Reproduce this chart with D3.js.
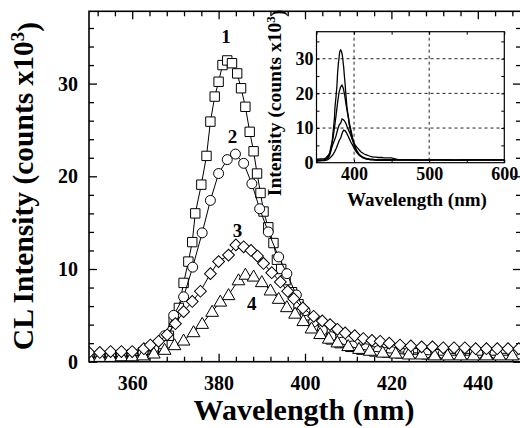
<!DOCTYPE html>
<html><head><meta charset="utf-8">
<script src="https://cdn.jsdelivr.net/npm/d3@7"></script>
<style>body{margin:0;background:#fff}svg{display:block}</style>
</head><body>
<svg id="c" width="520" height="428"></svg>
<script>
// ---- data ----
const s1x = [350,352.5,355,357.5,360,362.5,365,367,368.5,369.6,370.8,371.9,373,373.9,374.6,376,377.2,378.1,379.1,380,380.9,382,383.1,384.3,385.2,386.2,387.2,388.1,388.9,389.7,390.4,391.5,392.7,393.5,394.5,395.5,397,398.5,400,402,404,406,408,410.5,413,416,419,422,425,428,431,434,437,440,443,446,449];
const s1y = [0.6,0.6,0.7,0.7,0.8,1.0,1.3,1.9,2.8,4.3,5.8,8.5,10.8,12.9,16.0,19.1,22.2,25.9,28.6,30.2,32.0,32.5,32.2,31.1,29.5,27.5,24.8,22.7,20.3,18.2,16.2,14.5,12.8,11.0,10.0,8.8,7.5,6.2,5.0,3.8,3.0,2.4,2.0,1.6,1.3,1.1,1.0,0.9,0.9,0.8,0.8,0.8,0.8,0.8,0.8,0.8,0.8];
const s2x = [350,352.5,355,357.5,360,362.5,365,367.5,369.6,371.9,374,376.2,378.1,380,382,383.9,385.8,387.7,389.5,391.5,393.9,395.8,398,400,402,404,406,408.5,411,414,417,420,424,428,432,436,440,444,448];
const s2y = [0.6,0.6,0.7,0.7,0.8,1.0,1.5,2.8,5.0,7.0,10.2,13.9,17.4,20.3,21.8,22.4,21.4,19.2,16.5,14.0,11.3,9.5,7.2,5.5,4.3,3.4,2.7,2.1,1.7,1.4,1.2,1.1,1.0,0.9,0.9,0.9,0.9,0.9,0.9];
const s3x = [350,352.5,355,357.5,360,362.7,364.2,366.1,368.1,370,371.9,373.9,375.8,378.1,380,382.3,384,385.8,387.5,389,390.4,392.3,394.3,396,397.4,399.5,402,404,405.8,407.5,409.3,411.5,413.5,415.5,417.4,419.5,422,424.5,427,429.5,432,434.5,437,439.5,442,444.5,447,449.5];
const s3y = [1.0,1.0,1.1,1.1,1.1,1.4,1.8,2.2,2.9,4.1,5.4,6.5,7.6,9.5,10.8,11.5,12.6,12.4,12.0,11.4,10.6,9.6,8.6,7.6,6.8,5.8,4.9,4.4,4.0,3.5,3.1,2.8,2.5,2.3,2.2,2.0,1.8,1.7,1.6,1.6,1.5,1.5,1.5,1.4,1.4,1.4,1.4,1.4];
const s4x = [350,352.5,355,357.5,360,362.5,365,367.5,369.8,371.9,374.2,376.2,378.5,380.4,382.3,384.6,386.2,388.1,390,392,393.9,395.8,397.7,399.6,401.5,403.5,405.5,407.5,410,412.5,415,418,421,424,427,430,433,436,439,442,445,448];
const s4y = [0.5,0.5,0.5,0.6,0.6,0.7,0.9,1.3,1.8,2.3,3.2,4.1,5.4,6.5,7.2,8.8,9.4,9.2,8.6,7.7,6.8,5.9,5.2,4.4,3.6,3.0,2.5,2.1,1.7,1.4,1.2,1.0,0.9,0.8,0.8,0.7,0.7,0.7,0.7,0.7,0.7,0.7];
// inset tail beyond 450 nm (shared)
const tailX = [460,475,490,505,520,535,550,565,580,590,600];
const tailY = [0.8,0.8,0.7,0.8,0.8,0.7,0.8,0.9,0.8,0.9,0.8];
const seriesLabels = ["1","2","3","4"];
const labelX = [381.7,383.2,384.4,387.7];
const labelY = [35.1,24.3,14.2,6.3];
const xMajor = [360,380,400,420,440];
const yMajor = [0,10,20,30];
const insetXMajor = [400,500,600];
const insetYMajor = [0,10,20,30];

// ---- layout ----
const svg = d3.select("#c");
const L = 89, R = 521, T = 11.3, B = 361.7;
const x = d3.scaleLinear().domain([350,450]).range([L,R]);
const y = d3.scaleLinear().domain([0,37.8]).range([B,T]);
const font = "'Liberation Serif','Times New Roman',serif";

svg.append("defs").append("clipPath").attr("id","clip")
  .append("rect").attr("x",L).attr("y",T).attr("width",R-L).attr("height",B-T);

function styleAxis(g){ g.select(".domain").remove(); g.selectAll("line").attr("stroke","#000").attr("stroke-width",1.3);
  g.selectAll("text").attr("font-family",font).attr("font-weight","bold").attr("fill","#000"); }

const xMinor = d3.range(352,450,4).filter(v=>!xMajor.includes(v));
const yMinor = d3.range(2,38,2).filter(v=>!yMajor.includes(v));

// bottom
svg.append("g").attr("transform",`translate(0,${B})`)
  .call(d3.axisBottom(x).tickValues(xMajor).tickSize(-8).tickPadding(14).tickFormat(d3.format("d")))
  .call(styleAxis).call(g=>g.selectAll("text").attr("font-size",20));
svg.append("g").attr("transform",`translate(0,${B})`)
  .call(d3.axisBottom(x).tickValues(xMinor).tickSize(-5).tickFormat("")).call(styleAxis);
// top
svg.append("g").attr("transform",`translate(0,${T})`)
  .call(d3.axisTop(x).tickValues(xMajor).tickSize(-8).tickFormat("")).call(styleAxis);
svg.append("g").attr("transform",`translate(0,${T})`)
  .call(d3.axisTop(x).tickValues(xMinor).tickSize(-5).tickFormat("")).call(styleAxis);
// left
svg.append("g").attr("transform",`translate(${L},0)`)
  .call(d3.axisLeft(y).tickValues(yMajor).tickSize(-8).tickPadding(11).tickFormat(d3.format("d")))
  .call(styleAxis).call(g=>g.selectAll("text").attr("font-size",20));
svg.append("g").attr("transform",`translate(${L},0)`)
  .call(d3.axisLeft(y).tickValues(yMinor).tickSize(-5).tickFormat("")).call(styleAxis);
// right
svg.append("g").attr("transform",`translate(${R},0)`)
  .call(d3.axisRight(y).tickValues(yMajor).tickSize(-8).tickFormat("")).call(styleAxis);
svg.append("g").attr("transform",`translate(${R},0)`)
  .call(d3.axisRight(y).tickValues(yMinor).tickSize(-5).tickFormat("")).call(styleAxis);

// series
const series = [
  {xs:s1x, ys:s1y, sym:"square"},
  {xs:s2x, ys:s2y, sym:"circle"},
  {xs:s4x, ys:s4y, sym:"triangle"},
  {xs:s3x, ys:s3y, sym:"diamond"}
];
const symPath = {
  square: d3.symbol().type(d3.symbolSquare).size(88)(),
  circle: d3.symbol().type(d3.symbolCircle).size(78)(),
  triangle: d3.symbol().type(d3.symbolTriangle).size(70)(),
  diamond: d3.symbol().type(d3.symbolSquare).size(70)()
};
const plot = svg.append("g").attr("clip-path","url(#clip)");
const line = d3.line().x(d=>x(d[0])).y(d=>y(d[1]));
series.forEach(s=>{
  const pts = s.xs.map((v,i)=>[v,s.ys[i]]);
  const g = plot.append("g");
  g.append("path").attr("d",line(pts)).attr("fill","none").attr("stroke","#000").attr("stroke-width",1);
  g.selectAll("path.m").data(pts).join("path").attr("class","m")
    .attr("d",symPath[s.sym])
    .attr("transform",d=>`translate(${x(d[0])},${y(d[1])})${s.sym==="diamond"?" rotate(45)":""}${s.sym==="triangle"?" translate(0,1)":""}`)
    .attr("fill","#fff").attr("stroke","#000").attr("stroke-width",1);
});

// curve numbers
svg.selectAll("text.lab").data(seriesLabels).join("text").attr("class","lab")
  .attr("x",(d,i)=>x(labelX[i])).attr("y",(d,i)=>y(labelY[i])).attr("dy","0.35em")
  .attr("text-anchor","middle").attr("font-family",font).attr("font-weight","bold").attr("font-size",19).text(d=>d);

// frame
svg.append("rect").attr("x",L).attr("y",T).attr("width",R-L).attr("height",B-T)
  .attr("fill","none").attr("stroke","#000").attr("stroke-width",1.6);

// axis titles
svg.append("text").attr("x",(L+R)/2-1).attr("y",420).attr("text-anchor","middle")
  .attr("font-family",font).attr("font-weight","bold").attr("font-size",30).text("Wavelength (nm)");
const yt = svg.append("text").attr("transform","translate(33,186) rotate(-90)").attr("text-anchor","middle")
  .attr("font-family",font).attr("font-weight","bold").attr("font-size",29.5);
yt.append("tspan").text("CL Intensity (counts x10");
yt.append("tspan").attr("dy","-0.45em").attr("font-size",19).text("3");
yt.append("tspan").attr("dy","0.45em").text(")");

// ---- inset ----
const iL = 316.5, iR = 504.3, iT = 31.7, iB = 162.7;
const ix = d3.scaleLinear().domain([350,600]).range([iL,iR]);
const iy = d3.scaleLinear().domain([0,37.8]).range([iB,iT]);
const ig = svg.append("g");
ig.append("rect").attr("x",iL).attr("y",iT).attr("width",iR-iL).attr("height",iB-iT).attr("fill","#fff");
// grid
ig.selectAll("line.gx").data([400,500]).join("line").attr("x1",d=>ix(d)).attr("x2",d=>ix(d))
  .attr("y1",iT).attr("y2",iB).attr("stroke","#222").attr("stroke-width",1).attr("stroke-dasharray","3,3");
ig.selectAll("line.gy").data([10,20,30]).join("line").attr("y1",d=>iy(d)).attr("y2",d=>iy(d))
  .attr("x1",iL).attr("x2",iR).attr("stroke","#222").attr("stroke-width",1).attr("stroke-dasharray","3,3");
ig.append("defs").append("clipPath").attr("id","iclip").append("rect")
  .attr("x",iL).attr("y",iT).attr("width",iR-iL).attr("height",iB-iT);
const iline = d3.line().x(d=>ix(d[0])).y(d=>iy(d[1]));
[[s1x,s1y],[s2x,s2y],[s3x,s3y],[s4x,s4y]].forEach(([xs,ys])=>{
  const pts = xs.map((v,i)=>[v,ys[i]]).concat(tailX.map((v,i)=>[v,tailY[i]]));
  ig.append("path").attr("clip-path","url(#iclip)").attr("d",iline(pts)).attr("fill","none")
    .attr("stroke","#000").attr("stroke-width",1.3);
});
const iyMinor = d3.range(5,38,5);
const ixMinor = d3.range(350,601,50);
function iStyle(g){ g.select(".domain").remove(); g.selectAll("line").attr("stroke","#000").attr("stroke-width",1);
  g.selectAll("text").attr("font-family",font).attr("font-weight","bold").attr("fill","#000").attr("font-size",18); }
ig.append("g").attr("transform",`translate(0,${iB})`).call(d3.axisBottom(ix).tickValues(ixMinor).tickSize(-3).tickFormat("")).call(iStyle);
ig.append("g").attr("transform",`translate(0,${iB})`).call(d3.axisBottom(ix).tickValues(insetXMajor).tickSize(0).tickPadding(5).tickFormat(d3.format("d"))).call(iStyle);
ig.append("g").attr("transform",`translate(0,${iT})`).call(d3.axisTop(ix).tickValues(ixMinor).tickSize(-3).tickFormat("")).call(iStyle);
ig.append("g").attr("transform",`translate(${iL},0)`).call(d3.axisLeft(iy).tickValues(iyMinor).tickSize(-3).tickFormat("")).call(iStyle);
ig.append("g").attr("transform",`translate(${iL},0)`).call(d3.axisLeft(iy).tickValues(insetYMajor).tickSize(0).tickPadding(3).tickFormat(d3.format("d"))).call(iStyle);
ig.append("g").attr("transform",`translate(${iR},0)`).call(d3.axisRight(iy).tickValues(iyMinor).tickSize(-3).tickFormat("")).call(iStyle);
ig.append("rect").attr("x",iL).attr("y",iT).attr("width",iR-iL).attr("height",iB-iT)
  .attr("fill","none").attr("stroke","#000").attr("stroke-width",1.2);
ig.append("text").attr("x",417).attr("y",206).attr("text-anchor","middle")
  .attr("font-family",font).attr("font-weight","bold").attr("font-size",19).text("Wavelength (nm)");
const iyt = ig.append("text").attr("transform","translate(281,103) rotate(-90)").attr("text-anchor","middle")
  .attr("font-family",font).attr("font-weight","bold").attr("font-size",19.5);
iyt.append("tspan").text("Intensity (counts x10");
iyt.append("tspan").attr("dy","-0.45em").attr("font-size",13).text("3");
iyt.append("tspan").attr("dy","0.45em").text(")");
</script>
</body></html>
